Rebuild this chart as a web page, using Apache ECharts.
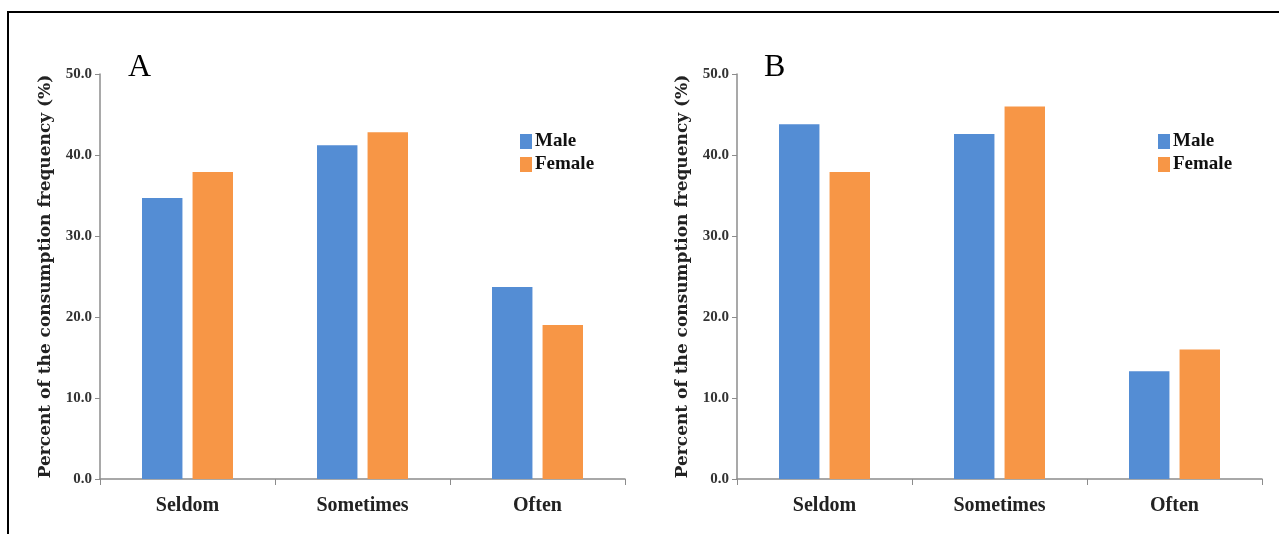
<!DOCTYPE html>
<html>
<head>
<meta charset="utf-8">
<script src="https://cdn.jsdelivr.net/npm/echarts@6/dist/echarts.min.js"></script>
<style>
	html, body { margin: 0; padding: 0; background: #fff; }
	#chart { width: 1279px; height: 534px; }
</style>
</head>
<body>
<div id="chart"></div>
<script>
const categories = [ 'Seldom', 'Sometimes', 'Often' ];
const maleA = [ 34.7, 41.2, 23.7 ];
const femaleA = [ 37.9, 42.8, 19.0 ];
const maleB = [ 43.8, 42.6, 13.3 ];
const femaleB = [ 37.9, 46.0, 16.0 ];
const yTicks = [ 0, 10, 20, 30, 40, 50 ];

const BLUE = '#548dd4';
const ORANGE = '#f79646';
const SERIF = '"Liberation Serif", "DejaVu Serif", serif';
const WIDE_SERIF = '"DejaVu Serif", "Liberation Serif", serif';
const AXIS_GREY = '#8c8c8c';

const makeXAxis = ( gridIndex ) => ( {
	type: 'category',
	gridIndex,
	data: categories,
	axisLine: { lineStyle: { color: AXIS_GREY, width: 1.5 } },
	axisTick: { show: true, length: 6, lineStyle: { color: AXIS_GREY } },
	axisLabel: { color: '#222', fontFamily: SERIF, fontWeight: 'bold', fontSize: 20, margin: 17 }
} );

const makeYAxis = ( gridIndex ) => ( {
	type: 'value',
	gridIndex,
	min: yTicks[ 0 ],
	max: yTicks[ yTicks.length - 1 ],
	interval: yTicks[ 1 ] - yTicks[ 0 ],
	name: 'Percent of the consumption frequency (%)',
	nameLocation: 'middle',
	nameRotate: 90,
	nameGap: 46,
	nameTextStyle: { color: '#222', fontFamily: WIDE_SERIF, fontWeight: 'bold', fontSize: 17 },
	splitLine: { show: false },
	axisLine: { show: true, lineStyle: { color: AXIS_GREY, width: 1.5 } },
	axisTick: { show: true, length: 5, lineStyle: { color: AXIS_GREY } },
	axisLabel: {
		color: '#333',
		fontFamily: SERIF,
		fontWeight: 'bold',
		fontSize: 15,
		margin: 8,
		formatter: ( v ) => v.toFixed( 1 )
	}
} );

const makeBar = ( name, data, color, idx ) => ( {
	name,
	type: 'bar',
	xAxisIndex: idx,
	yAxisIndex: idx,
	data,
	barGap: '25%',
	barCategoryGap: '48%',
	itemStyle: { color },
	emphasis: { disabled: true }
} );

const makeLegend = ( left ) => ( {
	left,
	top: 127,
	orient: 'vertical',
	icon: 'rect',
	itemWidth: 12,
	itemHeight: 15,
	itemGap: 4,
	selectedMode: false,
	data: [ 'Male', 'Female' ],
	textStyle: { color: '#111', fontFamily: SERIF, fontWeight: 'bold', fontSize: 19, padding: [ 0, 0, 0, -2 ] }
} );

const chart = echarts.init( document.getElementById( 'chart' ), null, { renderer: 'canvas' } );

chart.setOption( {
	animation: false,
	backgroundColor: '#fff',
	grid: [
		{ left: 100, right: 654, top: 74, bottom: 55 },
		{ left: 737, right: 17, top: 74, bottom: 55 }
	],
	xAxis: [ makeXAxis( 0 ), makeXAxis( 1 ) ],
	yAxis: [ makeYAxis( 0 ), makeYAxis( 1 ) ],
	legend: [ makeLegend( 515 ), makeLegend( 1153 ) ],
	series: [
		makeBar( 'Male', maleA, BLUE, 0 ),
		makeBar( 'Female', femaleA, ORANGE, 0 ),
		makeBar( 'Male', maleB, BLUE, 1 ),
		makeBar( 'Female', femaleB, ORANGE, 1 )
	],
	graphic: [
		{
			type: 'rect',
			shape: { x: 8, y: 12, width: 1290, height: 540 },
			style: { fill: 'none', stroke: '#000', lineWidth: 2 },
			silent: true
		},
		{
			type: 'text',
			left: 128,
			top: 52,
			style: { text: 'A', fill: '#000', font: '32px ' + SERIF }
		},
		{
			type: 'text',
			left: 764,
			top: 52,
			style: { text: 'B', fill: '#000', font: '32px ' + SERIF }
		}
	]
} );
</script>
</body>
</html>
